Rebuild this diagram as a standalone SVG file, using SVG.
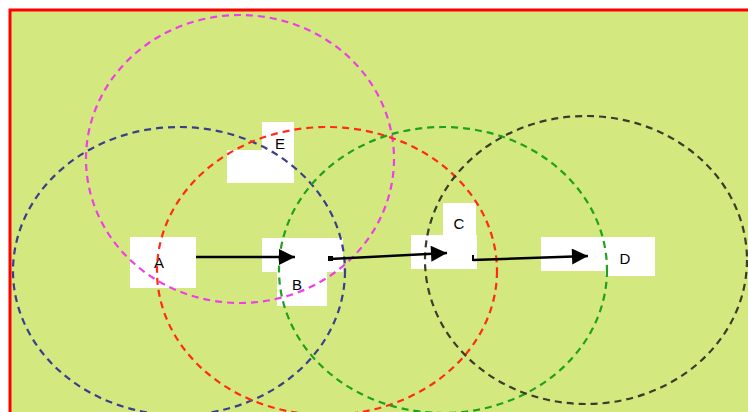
<svg xmlns="http://www.w3.org/2000/svg" width="748" height="412" viewBox="0 0 748 412">
<defs>
<style>
.box{fill:#ffffff;stroke:none}
.lbl{font-family:"Liberation Sans",Arial,sans-serif;font-size:15px;fill:#000000;text-anchor:middle}
.rng{fill:none;stroke-width:2.2;stroke-dasharray:7 5}
.edge{stroke:#000000;stroke-width:2.4;fill:none;marker-end:url(#ah)}
</style>
<marker id="ah" viewBox="0 0 10 10" refX="10" refY="5" markerWidth="17" markerHeight="16" markerUnits="userSpaceOnUse" orient="auto">
<path d="M0,0 L10,5 L0,10 z" fill="#000000"/>
</marker>
</defs>
<rect x="10" y="10" width="750" height="410" fill="#d3e97f" stroke="#ff0000" stroke-width="3"/>
<g id="node-A">
<rect class="box" x="130" y="237" width="66" height="51"/>
<text class="lbl" x="159" y="268">A</text>
</g>
<g id="node-B">
<rect class="box" x="262" y="238" width="81" height="34"/>
<rect class="box" x="277" y="238" width="50" height="68"/>
<text class="lbl" x="297" y="290">B</text>
</g>
<g id="node-C">
<rect class="box" x="443" y="203" width="33" height="66"/>
<rect class="box" x="411" y="235" width="66" height="34"/>
<text class="lbl" x="459" y="229">C</text>
</g>
<g id="node-D">
<rect class="box" x="541" y="237" width="65" height="34"/>
<rect class="box" x="605" y="237" width="50" height="39"/>
<text class="lbl" x="625" y="264">D</text>
</g>
<g id="node-E">
<rect class="box" x="262" y="122" width="32" height="61"/>
<rect class="box" x="227" y="150" width="67" height="33"/>
<text class="lbl" x="280" y="149">E</text>
</g>
<g id="ranges">
<ellipse class="rng" cx="240" cy="159" rx="154" ry="144" stroke="#ee3ee8"/>
<ellipse class="rng" cx="179" cy="271" rx="166" ry="144" stroke="#3a3f8c"/>
<ellipse class="rng" cx="327" cy="271" rx="170" ry="144" stroke="#ff2a1a"/>
<ellipse class="rng" cx="443" cy="270" rx="164" ry="143" stroke="#20a020"/>
<ellipse class="rng" cx="586" cy="260" rx="161" ry="144" stroke="#3b3b2a"/>
</g>
<g id="connectors">
<line class="edge" x1="196" y1="257" x2="295" y2="257"/>
<rect x="328" y="256" width="5" height="5" fill="#000000"/>
<line class="edge" x1="330" y1="259" x2="447" y2="253"/>
<line x1="473" y1="255" x2="473" y2="261" stroke="#000000" stroke-width="2"/>
<line class="edge" x1="473" y1="260" x2="588" y2="256"/>
</g>
</svg>
